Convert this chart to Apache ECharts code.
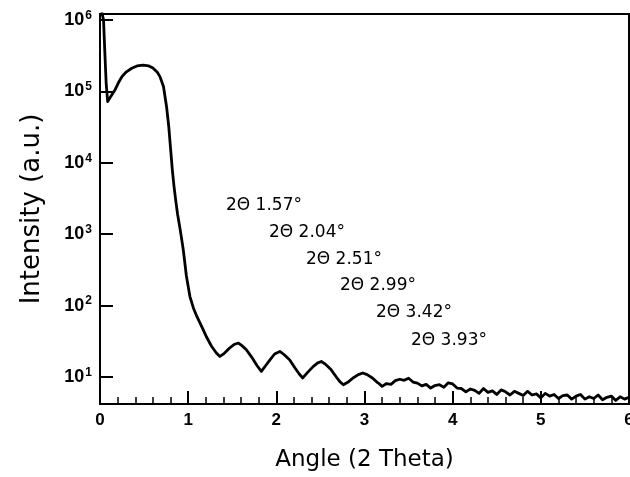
<!DOCTYPE html>
<html>
<head>
<meta charset="utf-8">
<script src="https://cdn.jsdelivr.net/npm/echarts@6/dist/echarts.min.js"></script>
<style>html,body{margin:0;padding:0;background:#fff}#c{width:630px;height:477px}</style>
</head>
<body>
<div id="c"></div>
<script>
// 2 Theta angle (degrees)
const angle = [
  0.02, 0.04, 0.055, 0.07, 0.087, 0.11, 0.14, 0.17, 0.21, 0.25, 0.30, 0.36, 0.42, 0.49, 0.55, 0.60,
  0.65, 0.68, 0.72, 0.755, 0.78, 0.80, 0.82, 0.84, 0.86, 0.88, 0.91, 0.945, 0.98, 1.02, 1.06, 1.10,
  1.17, 1.21, 1.265, 1.32, 1.36, 1.41, 1.47, 1.52, 1.57, 1.61, 1.66, 1.72, 1.78, 1.83, 1.88, 1.93,
  1.98, 2.04, 2.09, 2.15, 2.21, 2.26, 2.30, 2.36, 2.42, 2.47, 2.51, 2.56, 2.62, 2.68, 2.72, 2.76,
  2.82, 2.87, 2.93, 2.98, 3.03, 3.09, 3.14, 3.17,
  3.20, 3.25, 3.30, 3.35, 3.40, 3.45, 3.50, 3.55, 3.60, 3.65, 3.70, 3.75, 3.80, 3.85, 3.90, 3.95,
  4.00, 4.05, 4.10, 4.15, 4.20, 4.25, 4.30, 4.35, 4.40, 4.45, 4.50, 4.55, 4.60, 4.65, 4.70, 4.75,
  4.80, 4.85, 4.90, 4.95, 5.00, 5.05, 5.10, 5.15, 5.20, 5.25, 5.30, 5.35, 5.40, 5.45, 5.50, 5.55,
  5.60, 5.65, 5.70, 5.75, 5.80, 5.85, 5.90, 5.95, 6.00
];
// Intensity (a.u.)
const intensity = [
  1.3e6, 1.0e6, 3.5e5, 1.3e5, 7.2e4, 8.0e4, 9.2e4, 1.05e5, 1.33e5, 1.62e5, 1.88e5, 2.11e5, 2.27e5, 2.34e5, 2.28e5, 2.12e5,
  1.85e5, 1.61e5, 1.17e5, 6.1e4, 3.2e4, 1.6e4, 8.0e3, 4.6e3, 2.9e3, 1.9e3, 1.15e3, 600, 260, 134, 92, 70,
  46, 36, 27, 21.7, 19.4, 21.5, 25.5, 28.5, 29.9, 27.5, 24.1, 19, 14.5, 12.0, 14.5, 17.5,
  21, 22.8, 20.5, 17.5, 13.5, 11, 9.7, 11.8, 14.1, 15.8, 16.5, 15, 12.7, 10, 8.6, 7.8,
  8.6, 9.7, 10.8, 11.4, 10.8, 9.7, 8.5, 8.0,
  7.4, 8.1, 7.9, 8.9, 9.3, 9.0, 9.6, 8.5, 8.2, 7.5, 7.9, 7.0, 7.6, 7.8, 7.2, 8.3,
  8.0, 7.0, 6.9, 6.2, 6.8, 6.5, 5.9, 6.9, 6.1, 6.4, 5.7, 6.6, 6.2, 5.6, 6.3, 5.9,
  5.5, 6.3, 5.6, 5.8, 5.1, 5.9, 5.4, 5.7, 5.0, 5.5, 5.6, 4.9, 5.4, 5.7, 4.9, 5.3,
  5.0, 5.6, 4.8, 5.2, 5.4, 4.7, 5.3, 4.9, 5.2
];
// Y tick decades (10^n)
const yExponents = [1, 2, 3, 4, 5, 6];
// Peak annotations
const peakLabels = ['2\u0398 1.57\u00b0', '2\u0398 2.04\u00b0', '2\u0398 2.51\u00b0', '2\u0398 2.99\u00b0', '2\u0398 3.42\u00b0', '2\u0398 3.93\u00b0'];

const labelPos = [[226, 207], [269, 234], [306, 261], [340, 287], [376, 314], [411, 342]];

const chart = echarts.init(document.getElementById('c'));
const data = angle.map((a, i) => [a, Math.log10(intensity[i])]);

chart.setOption({
  animation: false,
  backgroundColor: '#fff',
  grid: {
    left: 100, right: 1, top: 14, bottom: 73, outerBoundsMode: 'none', containLabel: false,
    show: true, borderColor: '#000', borderWidth: 2, backgroundColor: 'transparent'
  },
  xAxis: {
    type: 'value', min: 0, max: 6, interval: 1,
    name: 'Angle (2 Theta)', nameLocation: 'middle', nameGap: 45,
    nameTextStyle: { fontFamily: 'DejaVu Sans', fontSize: 23, color: '#000' },
    axisLine: { lineStyle: { color: '#000', width: 2 } },
    axisTick: { inside: true, length: 13, lineStyle: { color: '#000', width: 2 } },
    minorTick: { show: true, splitNumber: 5, length: 7, lineStyle: { color: '#000', width: 1.5 } },
    splitLine: { show: false },
    axisLabel: { color: '#000', fontFamily: 'Liberation Sans', fontWeight: 'bold', fontSize: 17, margin: 8, hideOverlap: false }
  },
  yAxis: {
    type: 'value', min: 0.622, max: 6.084,
    name: 'Intensity (a.u.)', nameLocation: 'middle', nameGap: 55,
    nameTextStyle: { fontFamily: 'DejaVu Sans', fontSize: 26, color: '#000' },
    axisLine: { lineStyle: { color: '#000', width: 2 } },
    axisTick: { inside: true, length: 13, customValues: yExponents, lineStyle: { color: '#000', width: 2 } },
    splitLine: { show: false },
    axisLabel: {
      customValues: yExponents, margin: 8,
      formatter: v => '{a|10}{b|' + v + '}',
      rich: {
        a: { color: '#000', fontFamily: 'Liberation Sans', fontWeight: 'bold', fontSize: 18 },
        b: { color: '#000', fontFamily: 'Liberation Sans', fontWeight: 'bold', fontSize: 12, padding: [0, 0, 9, 1] }
      }
    }
  },
  graphic: peakLabels.map((t, i) => ({
    type: 'text', left: labelPos[i][0], top: labelPos[i][1] - 10,
    style: { text: t, fill: '#000', font: '17px "DejaVu Sans"' }
  })),
  series: [{
    type: 'line', data: data, showSymbol: false, smooth: false, clip: true,
    lineStyle: { color: '#000', width: 2.8, join: 'round' }
  }]
});
</script>
</body>
</html>
